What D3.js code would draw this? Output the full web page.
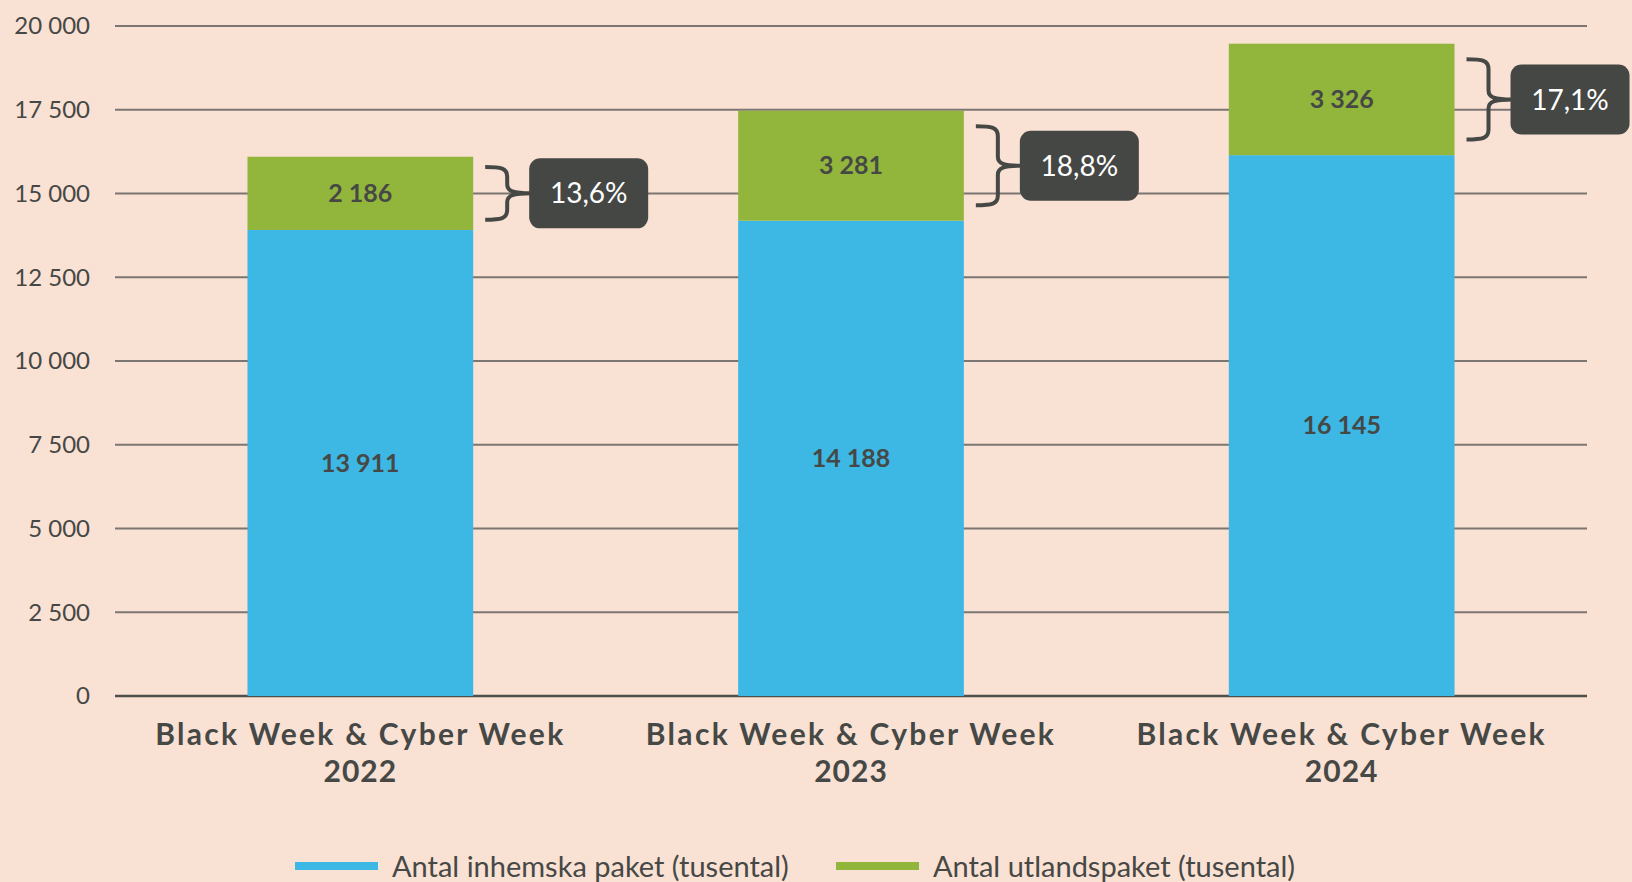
<!DOCTYPE html>
<html>
<head>
<meta charset="utf-8">
<script src="https://cdn.jsdelivr.net/npm/d3@7"></script>
<style>
  body { margin:0; background:#f9e1d3; }
  svg { display:block; font-family:"Gill Sans","Gill Sans MT",Lato,"Open Sans",sans-serif; }
</style>
</head>
<body>
<svg id="chart" width="1632" height="882"></svg>
<script>
// data (thousands of parcels)
var years = ["2022","2023","2024"];
var domestic = [13911, 14188, 16145];
var abroad = [2186, 3281, 3326];
var share = ["13,6%","18,8%","17,1%"];
var series_names = ["Antal inhemska paket (tusental)","Antal utlandspaket (tusental)"];
var y_ticks = [0,2500,5000,7500,10000,12500,15000,17500,20000];

var colors = ["#3db7e3","#92b63c"];
var dark = "#464846";

var svg = d3.select("#chart");
svg.append("rect").attr("width",1632).attr("height",882).attr("fill","#f9e1d3");

var xScale = d3.scaleBand().domain(years).range([115,1587]).paddingInner(0.54).paddingOuter(0.27);
var yScale = d3.scaleLinear().domain([0,20000]).range([696,26]);

var fmt = function(v){ return d3.format(",")(v).replace(/,/g," "); };

// grid
svg.append("g").selectAll("line").data(y_ticks).enter().append("line")
  .attr("x1",115).attr("x2",1587)
  .attr("y1",function(d){ return yScale(d); })
  .attr("y2",function(d){ return yScale(d); })
  .attr("stroke",function(d){ return d==0 ? "#4f4f4d" : "#7b7672"; })
  .attr("stroke-width",function(d){ return d==0 ? 2.5 : 2; });

svg.append("g").selectAll("text").data(y_ticks).enter().append("text")
  .attr("x",90).attr("y",function(d){ return yScale(d); })
  .attr("dy","0.35em").attr("text-anchor","end")
  .attr("font-size",24).attr("fill",dark)
  .text(fmt);

// stacked bars
var rows = years.map(function(y,i){ return {year:y, dom:domestic[i], abr:abroad[i]}; });
var stack = d3.stack().keys(["dom","abr"])(rows);

var layer = svg.append("g").selectAll("g").data(stack).enter().append("g")
  .attr("fill",function(d,i){ return colors[i]; });
layer.selectAll("rect").data(function(d){ return d; }).enter().append("rect")
  .attr("x",function(d){ return xScale(d.data.year); })
  .attr("width",xScale.bandwidth())
  .attr("y",function(d){ return yScale(d[1]); })
  .attr("height",function(d){ return yScale(d[0]) - yScale(d[1]); });

layer.selectAll("text").data(function(d){ return d; }).enter().append("text")
  .attr("x",function(d){ return xScale(d.data.year) + xScale.bandwidth()/2; })
  .attr("y",function(d){ return (yScale(d[0]) + yScale(d[1]))/2; })
  .attr("dy","0.35em").attr("text-anchor","middle")
  .attr("font-size",25).attr("font-weight","bold").attr("fill",dark)
  .text(function(d){ return fmt(d[1]-d[0]); });

// braces + share boxes
var top_layer = stack[1];
top_layer.forEach(function(d,i){
  var yt = yScale(d[1]), yb = yScale(d[0]);
  var mid = (yt+yb)/2, half = (yb-yt)*0.36;
  var t = mid-half, b = mid+half;
  var x0 = xScale(d.data.year) + xScale.bandwidth() + 12;
  var xm = x0 + 22, x1 = x0 + 46;
  var p = "M"+x0+","+t+" C"+(x0+16)+","+t+" "+xm+","+(t+1)+" "+xm+","+(t+10)
    +" L"+xm+","+(mid-9)+" C"+xm+","+(mid-2)+" "+(xm+6)+","+mid+" "+x1+","+mid
    +" M"+x1+","+mid+" C"+(xm+6)+","+mid+" "+xm+","+(mid+2)+" "+xm+","+(mid+9)
    +" L"+xm+","+(b-10)+" C"+xm+","+(b-1)+" "+(x0+16)+","+b+" "+x0+","+b;
  svg.append("path").attr("d",p).attr("fill","none")
    .attr("stroke",dark).attr("stroke-width",4);
  svg.append("rect").attr("x",x1-2).attr("y",mid-35).attr("width",119).attr("height",70)
    .attr("rx",11).attr("fill","#454744");
  svg.append("text").attr("x",x1+57.5).attr("y",mid).attr("dy","0.36em")
    .attr("text-anchor","middle").attr("font-size",28).attr("fill","#ffffff")
    .text(share[i]);
});

// category labels, two lines each
var xg = svg.append("g").selectAll("g").data(years).enter().append("g")
  .attr("font-size",30).attr("font-weight","bold").attr("fill",dark)
  .attr("text-anchor","middle").attr("letter-spacing",2.3);
xg.append("text")
  .attr("x",function(d){ return xScale(d) + xScale.bandwidth()/2; })
  .attr("y",745).text("Black Week & Cyber Week");
xg.append("text")
  .attr("x",function(d){ return xScale(d) + xScale.bandwidth()/2; })
  .attr("y",782).attr("letter-spacing",1).text(function(d){ return d; });

// legend
var leg_x = [295, 836];
series_names.forEach(function(name,i){
  svg.append("rect").attr("x",leg_x[i]).attr("y",862).attr("width",83).attr("height",8)
    .attr("fill",colors[i]);
  svg.append("text").attr("x",leg_x[i]+97).attr("y",877)
    .attr("font-size",29).attr("fill",dark).text(name);
});
</script>
</body>
</html>
